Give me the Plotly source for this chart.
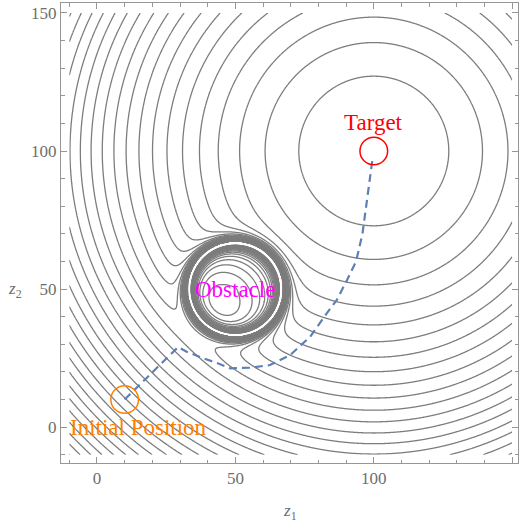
import numpy as np
import plotly.graph_objects as go

# --- scenario -------------------------------------------------------------
target = (100.0, 100.0)
start = (10.0, 10.0)
obstacle = (50.0, 50.0)
obstacle_radius = 16.7
influence_range = 20.0
marker_radius = 5.0

# potential gains
k_att = 1.0
eta_out = 32000.0
eta_in = 8000.0

# contour levels of the potential
level_step = 404.0
level_start = 367.0 - 20 * 404.0
level_end = 31000.0

# planned trajectory
path_x = [10.0, 29.3, 32.4, 38.4, 43.4, 48.1, 55.3, 62.5, 69.8, 77.0, 83.0, 86.6,
          90.3, 93.6, 95.9, 97.3, 98.5, 99.6]
path_y = [10.0, 29.0, 27.3, 24.9, 23.2, 21.3, 21.5, 22.5, 26.1, 32.7, 41.2, 46.0,
          53.2, 60.0, 70.0, 80.0, 88.0, 97.5]

# tick values
major_ticks = [0, 50, 100, 150]

# --- potential field -------------------------------------------------------
def attraction(X, Y):
    return 0.5 * k_att * ((X - target[0]) ** 2 + (Y - target[1]) ** 2)

def boundary_distance(X, Y):
    return np.hypot(X - obstacle[0], Y - obstacle[1]) - obstacle_radius

clip_hi = level_end + 2 * level_step
clip_lo = level_start - 2 * level_step

# field outside the obstacle boundary
xs = np.arange(-10.0, 150.0001, 0.25)
ys = np.arange(-10.0, 150.0001, 0.25)
X, Y = np.meshgrid(xs, ys)
rho = boundary_distance(X, Y)
with np.errstate(divide="ignore", invalid="ignore"):
    rep = np.where((rho > 0) & (rho <= influence_range),
                   0.5 * eta_out * (1.0 / rho - 1.0 / influence_range) ** 2, 0.0)
U_out = np.where(rho > 0, np.minimum(attraction(X, Y) + rep, clip_hi), clip_hi)
U_out = U_out.astype(np.float32)

# field inside the obstacle boundary
xi = np.arange(31.0, 69.0001, 0.1)
yi = np.arange(31.0, 69.0001, 0.1)
XI, YI = np.meshgrid(xi, yi)
depth = -boundary_distance(XI, YI)
with np.errstate(divide="ignore", invalid="ignore"):
    U_in = attraction(XI, YI) - eta_in / depth
U_in = np.where(depth > 0, np.maximum(U_in, clip_lo), clip_lo).astype(np.float32)

line_gray = "rgb(125,125,125)"
contour_style = dict(
    contours=dict(coloring="lines", start=level_start, end=level_end, size=level_step,
                  showlabels=False),
    line=dict(width=1.3),
    colorscale=[[0, line_gray], [1, line_gray]],
    showscale=False,
    hoverinfo="skip",
)

fig = go.Figure()
fig.add_trace(go.Contour(x=xs, y=ys, z=U_out, **contour_style))
fig.add_trace(go.Contour(x=xi, y=yi, z=U_in, **contour_style))

fig.add_trace(go.Scatter(
    x=path_x, y=path_y, mode="lines",
    line=dict(color="rgb(94,129,181)", width=2.2, dash="8px,5px"),
    hoverinfo="skip", showlegend=False,
))

for (cx, cy), col in [(target, "rgb(255,0,0)"), (start, "rgb(255,128,0)")]:
    fig.add_shape(type="circle", xref="x", yref="y",
                  x0=cx - marker_radius, x1=cx + marker_radius,
                  y0=cy - marker_radius, y1=cy + marker_radius,
                  line=dict(color=col, width=1.5))

serif = "Liberation Serif, Times New Roman, serif"
labels = [
    ("Target", 100, 110.5, "rgb(255,0,0)"),
    ("Obstacle", 50, 50, "rgb(255,0,255)"),
    ("Initial Position", 15, 0, "rgb(255,128,0)"),
]
for txt, lx, ly, col in labels:
    fig.add_annotation(x=lx, y=ly, xref="x", yref="y", text=txt, showarrow=False,
                       font=dict(family=serif, size=23, color=col),
                       xanchor="center", yanchor="middle")

axis_gray = "rgb(150,150,150)"
label_gray = "rgb(110,110,110)"
tick_font = dict(family=serif, size=17, color=label_gray)
common_axis = dict(
    showgrid=False, zeroline=False, showline=True, linecolor=axis_gray, linewidth=1,
    mirror="allticks", ticks="inside", ticklen=6, tickcolor=axis_gray, tickwidth=1,
    tickvals=major_ticks, tickfont=tick_font,
    minor=dict(ticks="inside", dtick=10, ticklen=3.5, tickcolor=axis_gray, tickwidth=1),
)

fig.update_xaxes(range=[-13.0, 152.1], **common_axis)
fig.update_yaxes(range=[-13.0, 153.6], **common_axis)

fig.add_annotation(x=0.5, y=-0.135, xref="paper", yref="paper",
                   text="<i>z</i><sub>1</sub>", showarrow=False,
                   font=dict(family=serif, size=17, color=label_gray))
fig.add_annotation(x=-0.12, y=0.376, xref="paper", yref="paper",
                   text="<i>z</i><sub>2</sub>", showarrow=False,
                   font=dict(family=serif, size=17, color=label_gray))

fig.update_layout(
    width=524, height=528,
    margin=dict(l=61, r=6, t=3, b=65),
    plot_bgcolor="white", paper_bgcolor="white",
    showlegend=False,
)

fig.write_html("out.html")
